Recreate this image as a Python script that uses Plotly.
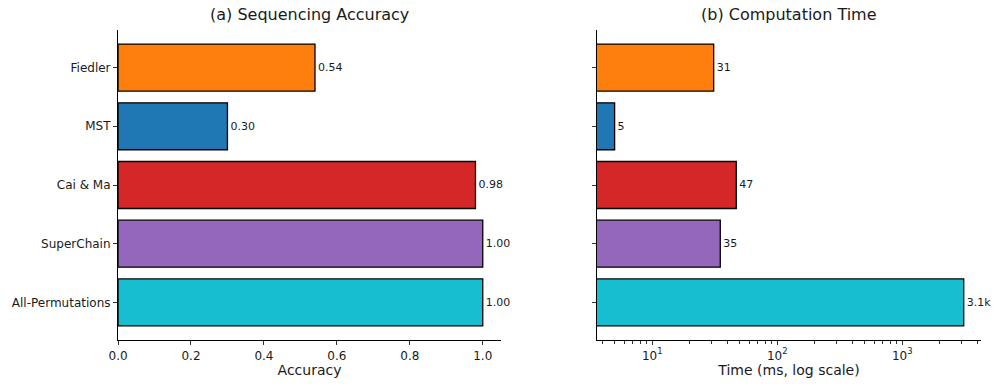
import plotly.graph_objects as go
from plotly.subplots import make_subplots

methods = ["Fiedler", "MST", "Cai & Ma", "SuperChain", "All-Permutations"]
colors = ["#ff7f0e", "#1f77b4", "#d62728", "#9467bd", "#17becf"]
accuracy = [0.54, 0.30, 0.98, 1.00, 1.00]
acc_labels = ["0.54", "0.30", "0.98", "1.00", "1.00"]
time_ms = [31, 5, 47, 35, 3100]
time_labels = ["31", "5", "47", "35", "3.1k"]

FONT = "DejaVu Sans"
INK = "#1a1a1a"

fig = make_subplots(rows=1, cols=2)

fig.add_trace(go.Bar(
    y=methods, x=accuracy, orientation="h", width=0.8,
    marker=dict(color=colors, line=dict(color="black", width=1.3)),
    text=acc_labels, textposition="outside", cliponaxis=False,
    textfont=dict(family=FONT, size=11, color=INK),
), row=1, col=1)

fig.add_trace(go.Bar(
    y=methods, x=time_ms, orientation="h", width=0.8,
    marker=dict(color=colors, line=dict(color="black", width=1.3)),
    text=time_labels, textposition="outside", cliponaxis=False,
    textfont=dict(family=FONT, size=11, color=INK),
), row=1, col=2)

yax = dict(
    categoryorder="array", categoryarray=methods, range=[4.64, -0.64],
    showline=True, linecolor="black", linewidth=1.2, automargin=False,
    ticks="outside", ticklen=4, tickcolor="#333", showgrid=False, zeroline=False,
    tickfont=dict(family=FONT, size=12, color=INK),
)
fig.update_yaxes(**yax, row=1, col=1)
fig.update_yaxes(**yax, showticklabels=False, row=1, col=2)

fig.update_xaxes(
    range=[0, 1.05], tickvals=[0, 0.2, 0.4, 0.6, 0.8, 1.0],
    ticktext=["0.0", "0.2", "0.4", "0.6", "0.8", "1.0"],
    showline=True, linecolor="black", linewidth=1.2, automargin=False,
    ticks="outside", ticklen=4, tickcolor="#333", showgrid=False, zeroline=False,
    tickfont=dict(family=FONT, size=12, color=INK),
    title=dict(text="Accuracy", font=dict(family=FONT, size=14, color=INK), standoff=2),
    row=1, col=1,
)

minor_vals = [v * m for m in (1, 10, 100) for v in range(4 if m == 1 else 2, 10)] + [2000, 3000, 4000]
fig.update_xaxes(
    type="log", range=[0.558, 3.63],
    tickvals=[10, 100, 1000], ticktext=["10<sup>1</sup>", "10<sup>2</sup>", "10<sup>3</sup>"],
    minor=dict(tickvals=minor_vals, ticks="outside", ticklen=2.5, tickcolor="#333"),
    showline=True, linecolor="black", linewidth=1.2, automargin=False,
    ticks="outside", ticklen=4, tickcolor="#333", showgrid=False, zeroline=False,
    tickfont=dict(family=FONT, size=12, color=INK),
    title=dict(text="Time (ms, log scale)", font=dict(family=FONT, size=14, color=INK), standoff=2),
    row=1, col=2,
)

fig.update_layout(
    width=997, height=388,
    margin=dict(l=0, r=0, t=0, b=0, autoexpand=False),
    paper_bgcolor="white", plot_bgcolor="white",
    showlegend=False, bargap=0.2,
    font=dict(family=FONT),
    xaxis=dict(domain=[0.1184, 0.5025]),
    xaxis2=dict(domain=[0.5988, 0.9840]),
    yaxis=dict(domain=[0.1237, 0.9227]),
    yaxis2=dict(domain=[0.1237, 0.9227]),
    annotations=[
        dict(text="(a) Sequencing Accuracy", x=0.3105, y=1 - 15 / 388, xref="paper", yref="paper",
             xanchor="center", yanchor="middle", showarrow=False,
             font=dict(family=FONT, size=16, color=INK)),
        dict(text="(b) Computation Time", x=0.7914, y=1 - 15 / 388, xref="paper", yref="paper",
             xanchor="center", yanchor="middle", showarrow=False,
             font=dict(family=FONT, size=16, color=INK)),
    ],
)

# page body has a default 8px margin; drop it so the figure fills the window
fig.write_html("out.html", config={"displayModeBar": False},
               post_script="document.body.style.margin='0';")
